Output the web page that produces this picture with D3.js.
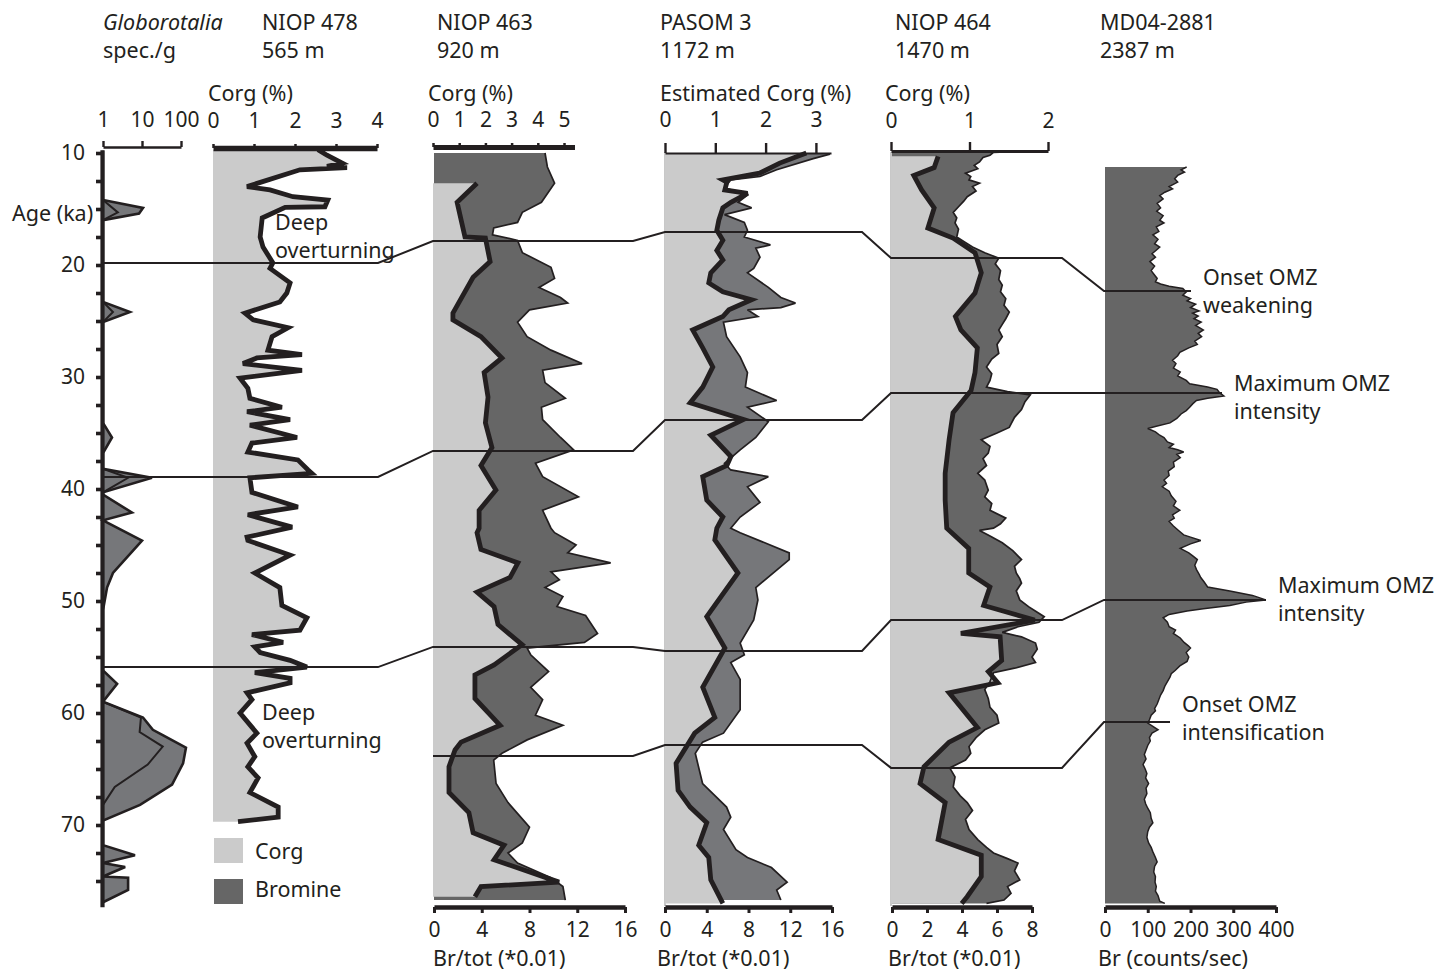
<!DOCTYPE html>
<html>
<head>
<meta charset="utf-8">
<script src="https://cdn.jsdelivr.net/npm/d3@7"></script>
<style>
  body { margin: 0; background: #fff; }
  svg text { font-family: "Noto Sans", sans-serif; fill: #231f20; }
</style>
</head>
<body>
<svg id="chart" width="1455" height="973"></svg>
<script>
// ---------------- data: [age (ka), value] ----------------
// Globorotalia abundance (spec./g), outer envelope and inner series
const globoOuter = [[9.8,1],[14.2,1],[14.9,10.6],[15.4,8.4],[16.0,1],[23.3,1],[24.2,4.9],[25.1,1],
  [34.1,1],[35.4,1.7],[36.8,1],[38.2,1],[39.0,18],[40.3,1],[40.5,1],[42.1,5.5],[42.8,1],
  [44.6,10],[47.5,1.8],[48.8,1.27],[50.8,1],[56.2,1],[57.4,2.3],[59.0,1],
  [60.4,10.6],[61.5,19],[62.0,35],[63.1,134],[64.5,113],[66.4,59],[68.2,8.9],[69.6,1],
  [71.8,1],[72.7,6.6],[73.4,1],[73.75,3.7],[74.6,1],[74.7,4.4],[75.8,4.4],[76.9,1]];
const globoInner = [[14.2,1],[15.3,2.4],[16.0,1],[23.3,1],[24.2,1.8],[25.1,1],[38.2,1],[39.0,4.4],[40.3,1],
  [59.0,1],[60.4,9.4],[61.7,8.7],[63.0,34],[64.6,14],[66.6,2],[68.2,1]];

// NIOP 478 Corg (%)
const corg478 = [[9.7,2.56],[10.2,2.78],[10.9,3.15],[11.2,2.78],[11.3,3.27],[11.5,2.12],[13.0,0.83],[13.3,1.39],
  [13.9,1.95],[14.2,2.8],[14.8,2.73],[14.85,1.76],[15.8,1.2],[17.5,1.15],[18.4,1.22],[19.8,1.46],[20.3,1.39],
  [21.6,1.88],[22.5,1.8],[23.3,1.63],[24.3,0.78],[24.9,0.98],[25.6,1.83],[26.4,1.44],[27.6,1.34],[28.0,2.17],
  [28.3,1.07],[28.8,0.73],[29.4,2.17],[30.1,0.66],[31.0,0.85],[31.9,0.9],[32.7,1.68],[33.1,0.83],[33.8,1.88],
  [34.3,0.9],[35.4,2.05],[35.9,0.95],[36.7,0.85],[37.4,2.07],[38.3,2.32],[38.6,2.41],[39.0,0.9],[40.3,0.95],
  [41.6,2.07],[42.3,0.85],[43.4,1.93],[44.3,0.83],[44.6,0.85],[45.9,1.88],[47.5,1.02],[48.8,1.63],[50.4,1.68],
  [51.5,2.29],[52.6,2.12],[53.0,0.95],[53.7,1.71],[54.1,1.02],[54.6,1.15],[55.3,1.88],[55.9,2.29],[56.4,1.02],
  [56.9,1.88],[57.3,1.88],[58.2,0.83],[58.8,0.95],[60.0,0.66],[61.8,1.07],[62.7,0.83],[63.9,1.02],[64.8,0.85],
  [65.8,1.1],[67.1,0.9],[68.4,1.59],[69.3,1.59],[69.7,0.61]];

// NIOP 463 Corg (%) and Br/tot (*0.01)
const corg463 = [[12.7,1.68],[14.4,0.92],[17.5,1.22],[17.6,2.0],[19.7,2.18],[21.1,1.53],[24.3,0.76],[24.9,0.76],
  [26.4,1.83],[28.3,2.63],[29.6,1.95],[31.8,2.1],[34.1,2.0],[36.3,2.25],[37.9,1.83],[40.1,2.4],[41.9,1.76],
  [43.5,1.76],[43.9,1.68],[45.4,1.83],[46.6,3.24],[47.9,2.94],[49.2,1.68],[50.5,2.33],[52.1,2.48],[53.9,3.4],
  [55.7,2.33],[56.6,1.6],[58.7,1.6],[61.1,2.56],[62.6,1.07],[63.3,0.84],[64.8,0.61],[67.1,0.61],[68.9,1.37],
  [70.7,1.53],[71.8,2.71],[73.1,2.33],[75.1,4.81],[75.5,1.83],[76.4,1.6]];
const br463 = [[10.0,9.3],[11.25,9.5],[12.7,10.1],[14.4,9.0],[15.3,7.4],[16.2,7.0],[16.7,5.0],[17.3,4.9],[17.8,7.0],
  [18.9,7.4],[20.2,9.8],[21.2,10.1],[22.0,8.8],[22.9,10.6],[23.4,11.2],[24.0,8.0],[25.1,7.0],[26.4,7.8],[27.6,9.8],
  [28.8,12.4],[29.4,9.1],[30.5,9.3],[31.9,11.0],[32.7,9.0],[33.8,9.1],[35.4,10.6],[36.5,11.7],[37.7,8.5],[38.9,9.1],
  [40.7,12.1],[41.9,9.1],[43.5,9.8],[43.9,10.1],[45.0,11.9],[45.7,11.2],[46.6,14.8],[47.4,9.8],[48.1,10.5],
  [48.8,9.3],[49.6,10.8],[50.5,10.3],[51.3,12.7],[52.9,13.7],[53.7,12.6],[54.2,7.8],[54.8,8.1],[56.3,9.6],
  [57.7,8.1],[58.8,9.1],[60.2,8.5],[61.1,10.8],[62.4,7.8],[63.6,5.7],[64.2,5.0],[66.3,5.2],[68.0,6.2],[70.2,8.0],
  [71.6,7.4],[72.5,6.2],[73.4,7.0],[74.7,9.8],[75.5,10.8],[76.7,11.0]];

// PASOM 3 estimated Corg (%) and Br/tot (*0.01)
const corgPasom = [[10.0,2.81],[10.9,2.28],[11.8,1.88],[12.4,1.15],[12.6,1.23],[13.3,1.19],[13.6,1.64],[14.4,1.31],
  [14.9,1.15],[16.0,1.07],[16.9,1.03],[17.8,1.15],[18.7,1.03],[19.55,1.15],[20.7,0.91],[21.6,0.87],[22.4,1.15],
  [23.1,1.72],[24.0,1.27],[24.6,1.15],[25.8,0.55],[27.4,0.75],[29.1,0.95],[30.9,0.75],[32.3,0.5],[33.8,1.56],
  [35.2,0.91],[37.1,1.31],[37.9,1.23],[38.9,0.75],[41.0,0.83],[42.5,1.15],[43.5,1.03],[44.55,0.99],[47.5,1.45],
  [51.4,0.83],[54.2,1.19],[57.7,0.75],[60.4,0.99],[61.8,0.59],[64.5,0.22],[66.9,0.26],[68.4,0.5],[69.8,0.83],
  [71.8,0.67],[72.9,0.87],[74.9,0.91],[77.0,1.15]];
const brPasom = [[10.1,15.8],[10.5,14.2],[11.5,10.7],[12.1,9.1],[12.4,6.3],[13.1,5.7],[13.75,7.9],[14.4,7.0],
  [14.9,8.3],[15.5,5.7],[16.2,7.6],[16.9,7.9],[17.5,7.6],[18.2,10.1],[18.5,8.7],[19.3,9.1],[20.3,8.5],[20.7,7.9],
  [22.0,9.9],[22.9,11.1],[23.4,12.5],[23.8,11.1],[24.0,7.9],[24.6,8.9],[25.1,5.6],[26.4,5.9],[28.2,7.2],[29.6,7.9],
  [30.9,7.7],[32.1,10.7],[32.7,7.9],[34.0,9.9],[35.4,8.7],[36.5,7.2],[37.7,5.7],[38.3,6.3],[38.9,9.9],[39.8,7.9],
  [41.2,9.1],[42.5,7.2],[43.5,6.3],[43.9,7.2],[45.7,11.9],[46.3,11.9],[48.8,8.7],[49.9,8.9],[51.7,8.5],[53.75,7.2],
  [54.8,7.6],[55.5,6.3],[57.0,7.2],[59.7,7.2],[61.8,5.6],[62.6,3.6],[63.6,2.9],[66.3,3.6],[68.4,5.9],[69.3,6.3],
  [70.4,5.6],[72.2,6.8],[72.9,7.9],[73.8,10.2],[75.1,11.7],[75.8,10.7],[76.7,11.1]];

// NIOP 464 Corg (%) and Br/tot (*0.01)
const corg464 = [[10.3,0.60],[11.3,0.55],[12.0,0.29],[13.3,0.39],[14.9,0.55],[16.7,0.47],[17.6,0.79],[18.9,1.07],
  [20.7,1.15],[22.5,1.07],[24.6,0.82],[25.8,0.89],[27.4,1.1],[29.6,1.07],[31.2,1.02],[33.2,0.79],[35.6,0.74],
  [38.6,0.69],[41.0,0.69],[43.5,0.71],[45.3,0.99],[47.5,0.99],[48.75,1.26],[50.4,1.18],[51.7,1.83],[52.9,0.89],
  [53.2,1.39],[55.3,1.41],[56.3,1.24],[57.3,1.36],[58.2,0.74],[61.3,1.1],[62.6,0.74],[64.8,0.42],[66.3,0.37],
  [68.0,0.69],[71.3,0.6],[72.7,1.15],[74.6,1.15],[76.4,0.97],[77.0,0.9]];
const br464 = [[9.8,7.9],[9.95,5.8],[10.2,5.6],[10.4,5.2],[10.8,5.0],[11.1,4.7],[11.4,4.9],[11.8,4.2],[12.1,4.5],
  [12.4,4.4],[12.7,5.0],[13.0,4.6],[13.4,4.8],[13.9,4.3],[14.3,4.1],[14.8,3.8],[15.3,3.5],[15.8,3.7],[16.25,3.6],
  [16.8,3.8],[17.5,3.7],[17.9,4.1],[18.4,4.6],[18.9,5.3],[19.4,6.1],[19.9,5.9],[20.5,6.2],[21.3,6.1],[21.8,6.3],
  [22.4,6.2],[23.0,6.5],[23.6,6.4],[24.2,6.7],[24.8,6.5],[25.3,6.3],[25.8,6.1],[26.4,6.3],[27.1,6.0],[27.9,6.1],
  [28.4,5.7],[29.1,5.4],[29.7,5.7],[30.3,5.6],[30.9,5.4],[31.3,6.6],[31.6,7.9],[32.2,7.6],[32.9,7.4],[33.6,7.0],
  [34.5,6.7],[35.0,6.0],[35.6,5.1],[36.2,5.6],[36.8,5.5],[37.3,5.2],[37.9,5.4],[38.6,4.9],[39.2,5.3],[40.1,5.5],
  [40.7,5.3],[41.3,5.7],[41.9,5.6],[42.6,6.5],[43.1,6.2],[43.5,5.8],[43.7,5.0],[44.2,5.6],[44.8,6.3],[45.5,6.9],
  [46.3,7.4],[46.9,7.0],[47.5,7.1],[48.0,7.3],[48.4,7.4],[49.1,7.1],[49.9,7.3],[50.5,7.8],[51.0,8.3],[51.4,8.7],
  [51.9,8.4],[52.3,7.2],[52.8,6.3],[53.2,7.4],[53.75,8.2],[54.3,8.3],[55.0,8.0],[55.5,8.2],[56.0,7.0],[56.4,5.8],
  [57.2,5.6],[57.9,5.3],[58.7,5.5],[59.5,5.6],[60.2,6.0],[60.9,6.1],[61.5,5.3],[62.2,4.8],[63.0,4.4],[63.6,4.5],
  [64.2,4.2],[64.9,3.3],[65.7,3.6],[66.6,3.5],[67.4,3.9],[68.0,4.3],[68.7,4.6],[69.5,4.2],[70.4,4.4],[71.3,4.9],
  [72.0,5.4],[72.5,5.8],[73.0,6.6],[73.4,7.2],[74.1,7.0],[74.9,7.3],[75.5,6.6],[76.1,6.8],[76.7,6.4],[77.0,5.4]];

// MD04-2881 Br (counts/sec)
const brMD = [[11.25,191],[11.5,178],[11.7,186],[12.0,170],[12.3,163],[12.6,170],[13.0,150],[13.2,158],[13.5,140],
  [13.8,128],[14.1,136],[14.5,122],[14.9,130],[15.2,121],[15.6,136],[16.0,128],[16.25,138],[16.6,120],[17.0,126],
  [17.3,112],[17.7,124],[18.1,116],[18.4,128],[18.7,119],[19.0,110],[19.3,118],[19.7,105],[20.1,116],[20.5,108],
  [20.8,114],[21.2,122],[21.5,118],[21.7,130],[21.9,150],[22.1,182],[22.4,190],[22.7,182],[23.0,200],[23.2,192],
  [23.5,212],[23.8,200],[24.1,220],[24.3,205],[24.55,218],[24.8,208],[25.1,225],[25.4,212],[25.8,230],[26.1,218],
  [26.4,226],[26.8,210],[27.1,216],[27.4,196],[27.8,175],[28.1,170],[28.5,158],[28.8,166],[29.2,160],[29.55,176],
  [29.9,170],[30.3,190],[30.6,198],[30.9,240],[31.1,262],[31.4,268],[31.7,278],[31.9,240],[32.1,214],[32.4,205],
  [32.7,198],[33.0,190],[33.3,178],[33.7,168],[34.1,152],[34.4,120],[34.6,100],[34.9,118],[35.2,128],[35.4,138],
  [35.8,146],[36.0,160],[36.3,150],[36.5,170],[36.7,184],[36.9,168],[37.2,176],[37.6,160],[38.0,162],[38.4,148],
  [38.8,150],[39.2,138],[39.5,144],[39.8,134],[40.2,150],[40.6,155],[41.1,166],[41.5,160],[41.9,175],[42.3,158],
  [42.6,162],[42.9,150],[43.3,160],[43.7,172],[44.1,184],[44.3,200],[44.6,224],[44.9,200],[45.3,176],[45.7,196],
  [46.0,206],[46.3,216],[46.8,210],[47.2,214],[47.6,220],[47.9,224],[48.3,232],[48.75,240],[49.1,292],[49.5,345],
  [49.9,376],[50.1,330],[50.4,292],[50.7,230],[50.9,192],[51.2,150],[51.5,136],[51.9,146],[52.3,150],[52.6,165],
  [52.9,160],[53.3,176],[53.7,185],[54.0,195],[54.2,200],[54.6,190],[55.0,196],[55.4,192],[55.8,175],[56.2,164],
  [56.5,155],[56.8,152],[57.2,146],[57.6,140],[58.0,136],[58.4,130],[58.8,126],[59.2,122],[59.6,116],[59.8,118],
  [60.2,108],[60.6,104],[60.9,100],[61.2,112],[61.5,124],[61.8,110],[62.2,104],[62.5,106],[62.9,100],[63.3,96],
  [63.7,92],[64.1,96],[64.6,89],[65.0,94],[65.4,98],[65.8,95],[66.3,102],[66.7,96],[67.2,98],[67.7,92],[68.1,95],
  [68.5,100],[68.9,106],[69.4,108],[69.8,112],[70.2,104],[70.6,100],[71.1,98],[71.6,102],[72.0,108],[72.4,112],
  [72.9,118],[73.3,122],[73.7,116],[74.2,114],[74.6,118],[75.1,117],[75.5,120],[75.9,118],[76.3,124],[76.8,128],
  [77.0,140]];

// Correlation tie points (age in each column: NIOP 478, NIOP 463, PASOM 3, NIOP 464, MD04-2881)
const tieAges = [
  [19.82, 17.86, 17.05, 19.38, 22.32],
  [38.93, 36.60, 33.84, 31.43, 31.43],
  [55.90, 54.10, 54.46, 51.70, 49.90],
  [null,  63.84, 62.86, 64.90, 60.80]
];

// Tick values and labels
const ageTicks = d3.range(10, 76, 2.5);
const globoTicks = [1, 10, 100];
const corg478Ticks = [0, 1, 2, 3, 4];
const corg463Ticks = [0, 1, 2, 3, 4, 5];
const corgPasomTicks = [0, 1, 2, 3];
const corg464Ticks = [0, 1, 2];
const brTotTicks = [0, 4, 8, 12, 16];
const br464Ticks = [0, 2, 4, 6, 8];
const brMDTicks = [0, 100, 200, 300, 400];

const titles = [
  {x: 103, l1: "Globorotalia", l2: "spec./g", italic: true},
  {x: 262, l1: "NIOP 478", l2: "565 m"},
  {x: 437, l1: "NIOP 463", l2: "920 m"},
  {x: 660, l1: "PASOM 3", l2: "1172 m"},
  {x: 895, l1: "NIOP 464", l2: "1470 m"},
  {x: 1100, l1: "MD04-2881", l2: "2387 m"}
];
const mdNotes = [
  {x: 1203, y: 285, lines: ["Onset OMZ", "weakening"]},
  {x: 1234, y: 391, lines: ["Maximum OMZ", "intensity"]},
  {x: 1278, y: 593, lines: ["Maximum OMZ", "intensity"]},
  {x: 1182, y: 712, lines: ["Onset OMZ", "intensification"]}
];

// ---------------- drawing ----------------
const ink = "#231f20";
const LIGHT = "#cbcbcb", DARK = "#666666", MID = "#76777a";
const svg = d3.select("#chart");

const y = d3.scaleLinear().domain([10, 70]).range([153, 825]);

const globoX = d3.scaleLog().domain([1, 100]).range([103, 181]);
const c478X = d3.scaleLinear().domain([0, 4]).range([213, 377]);
const c463X = d3.scaleLinear().domain([0, 5.4]).range([433, 574.5]);
const b463X = d3.scaleLinear().domain([0, 16]).range([434, 625]);
const cPasX = d3.scaleLinear().domain([0, 3.3]).range([665, 831]);
const bPasX = d3.scaleLinear().domain([0, 16]).range([665, 832]);
const c464X = d3.scaleLinear().domain([0, 2]).range([891, 1048]);
const b464X = d3.scaleLinear().domain([0, 8]).range([892, 1032]);
const bMDX = d3.scaleLinear().domain([0, 400]).range([1105, 1276]);

const intFmt = d3.format("d");
const areaFrom = (xs, base) => d3.area().y(d => y(d[0])).x0(xs(base)).x1(d => xs(d[1]));
const lineOf = xs => d3.line().y(d => y(d[0])).x(d => xs(d[1]));

function fillArea(data, xs, base, fill) {
  svg.append("path").datum(data).attr("d", areaFrom(xs, base)).attr("fill", fill);
}
function strokeLine(data, xs, w) {
  svg.append("path").datum(data).attr("d", lineOf(xs))
    .attr("fill", "none").attr("stroke", ink).attr("stroke-width", w)
    .attr("stroke-linejoin", "miter").attr("stroke-miterlimit", 3);
}

// Column edge guides
[cPasX(0), c464X(0)].forEach(x => {
  svg.append("line").attr("x1", x).attr("x2", x).attr("y1", 152).attr("y2", 906)
    .attr("stroke", "#a3a3a3").attr("stroke-width", 1.2);
});

// Globorotalia
fillArea(globoOuter, globoX, 1, MID);
strokeLine(globoOuter, globoX, 2.6);
strokeLine(globoInner, globoX, 2);

// NIOP 478
fillArea(corg478, c478X, 0, LIGHT);
strokeLine(corg478, c478X, 4.8);

// Cores with Corg and Br
const cores = [
  {corg: corg463, br: br463, cx: c463X, bx: b463X, dark: DARK},
  {corg: corgPasom, br: brPasom, cx: cPasX, bx: bPasX, dark: MID},
  {corg: corg464, br: br464, cx: c464X, bx: b464X, dark: DARK}
];
cores.forEach(c => {
  fillArea(c.br, c.bx, 0, c.dark);
  fillArea(c.corg, c.cx, 0, LIGHT);
  strokeLine(c.br, c.bx, 1.7);
  strokeLine(c.corg, c.cx, 4.8);
});

// MD04-2881
fillArea(brMD, bMDX, 0, DARK);
strokeLine(brMD, bMDX, 1.5);

// Tie lines between columns
const spans = [[103, 378], [433, 633], [665, 862], [891, 1062], [1104, null]];
tieAges.forEach((ages, i) => {
  const pts = [];
  ages.forEach((a, k) => {
    if (a === null) return;
    const x1 = spans[k][1] === null ? mdNotes[i].x - 12 : spans[k][1];
    pts.push([spans[k][0], y(a)], [x1, y(a)]);
  });
  svg.append("path").attr("d", d3.line()(pts)).attr("fill", "none")
    .attr("stroke", ink).attr("stroke-width", 2);
});

// Axes
function styleAxis(g, pathW, tickW, fs) {
  g.attr("font-family", null).attr("font-size", null);
  g.select(".domain").attr("stroke", ink).attr("stroke-width", pathW);
  g.selectAll(".tick line").attr("stroke", ink).attr("stroke-width", tickW);
  g.selectAll(".tick text").style("font-size", fs + "px");
}

// Age axis
const yAxisScale = y.copy().domain([9.7, 77.3]).range([y(9.7), y(77.3)]);
const ageAxis = svg.append("g").attr("transform", "translate(102,0)")
  .call(d3.axisLeft(yAxisScale).tickValues(ageTicks).tickSize(6).tickSizeOuter(0).tickPadding(11)
    .tickFormat(d => d % 10 === 0 ? intFmt(d) : ""));
styleAxis(ageAxis, 4.2, 3.6, 21);

// Top axes
function topAxis(scale, ticks, yPos, tickSize, pad, pathW, tickW) {
  const ax = d3.axisTop(scale).tickValues(ticks).tickSize(tickSize).tickSizeOuter(0)
    .tickPadding(pad).tickFormat(intFmt);
  const g = svg.append("g").attr("transform", `translate(0,${yPos})`).call(ax);
  styleAxis(g, pathW, tickW, 21);
}
topAxis(globoX, globoTicks, 147, 6, 14, 2.4, 2.4);
topAxis(c478X, corg478Ticks, 148, 4, 16, 5.5, 2.5);
topAxis(c463X, corg463Ticks, 147, 4, 16, 5, 2.5);
topAxis(cPasX, corgPasomTicks, 153, 10, 16, 2.2, 2.4);
topAxis(c464X, corg464Ticks, 151, 9, 14, 3.2, 2.4);

// Bottom axes
function bottomAxis(scale, ticks) {
  const g = svg.append("g").attr("transform", "translate(0,907)")
    .call(d3.axisBottom(scale).tickValues(ticks).tickSize(6).tickSizeOuter(0).tickPadding(9).tickFormat(intFmt));
  styleAxis(g, 4.5, 3, 21);
}
bottomAxis(b463X, brTotTicks);
bottomAxis(bPasX, brTotTicks);
bottomAxis(b464X, br464Ticks);
bottomAxis(bMDX, brMDTicks);

// Text
function txt(x, yy, s, size, extra) {
  const t = svg.append("text").attr("x", x).attr("y", yy).text(s).style("font-size", size + "px");
  if (extra) extra(t);
  return t;
}
titles.forEach(t => {
  txt(t.x, 30, t.l1, 21.5, e => { if (t.italic) e.style("font-style", "italic"); });
  txt(t.x, 58, t.l2, 21.5);
});
txt(208, 101, "Corg (%)", 21.5);
txt(428, 101, "Corg (%)", 21.5);
txt(660, 101, "Estimated Corg (%)", 21.5);
txt(885, 101, "Corg (%)", 21.5);
txt(433, 966, "Br/tot (*0.01)", 21.5);
txt(657, 966, "Br/tot (*0.01)", 21.5);
txt(888, 966, "Br/tot (*0.01)", 21.5);
txt(1098, 966, "Br (counts/sec)", 21.5);
txt(12, 221, "Age (ka)", 21.5);

txt(275, 230, "Deep", 21.5);
txt(275, 258, "overturning", 21.5);
txt(262, 720, "Deep", 21.5);
txt(262, 748, "overturning", 21.5);

mdNotes.forEach(n => {
  txt(n.x, n.y, n.lines[0], 21.5);
  txt(n.x, n.y + 28, n.lines[1], 21.5);
});

// Legend
svg.append("rect").attr("x", 214).attr("y", 838).attr("width", 29).attr("height", 25).attr("fill", LIGHT);
svg.append("rect").attr("x", 214).attr("y", 879).attr("width", 29).attr("height", 25).attr("fill", DARK);
txt(255, 859, "Corg", 21.5);
txt(255, 897, "Bromine", 21.5);
</script>
</body>
</html>
